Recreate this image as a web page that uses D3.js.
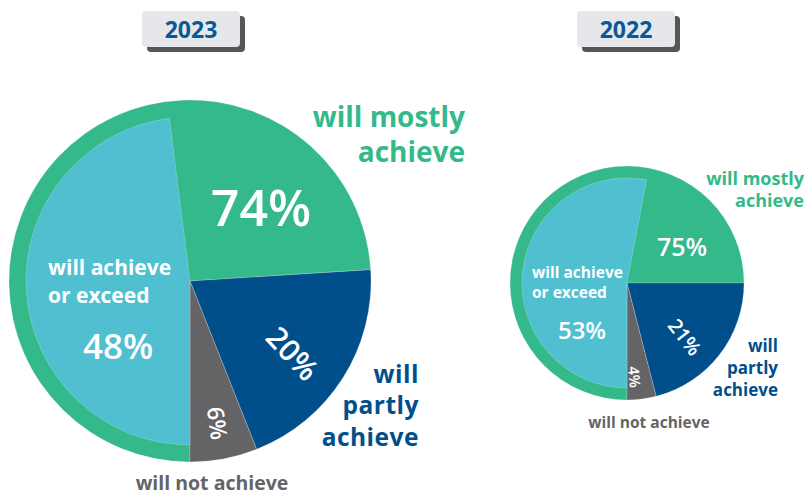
<!DOCTYPE html>
<html>
<head>
<meta charset="utf-8">
<script src="https://cdn.jsdelivr.net/npm/d3@7/dist/d3.min.js"></script>
<style>
  html, body { margin: 0; padding: 0; background: #fff; }
  svg { display: block; font-family: "Open Sans", "Noto Sans", sans-serif; }
</style>
</head>
<body>
<svg id="chart" width="808" height="496"></svg>
<script>
// Outlook by year: share of goals expected to be met (percent)
const years = ["2023", "2022"];
const achieveOrExceed = [48, 53];   // inner slice, part of "mostly achieve"
const mostlyAchieve   = [74, 75];   // includes achieve-or-exceed
const partlyAchieve   = [20, 21];
const notAchieve      = [6, 4];
const categoryLabels = {
  exceed: ["will achieve", "or exceed"],
  mostly: ["will mostly", "achieve"],
  partly: ["will", "partly", "achieve"],
  not: ["will not achieve"]
};

const colors = {
  mostly: "#33b98a",
  exceed: "#50c0d1",
  partly: "#004f8b",
  not: "#646466",
  title: "#0b5897"
};

// Placement of each pie and its labels (offsets relative to the pie centre)
const layouts = [
  { cx: 190, cy: 281, R: 181, rIn: 164, title: 23, badgeX: 191,
    mostlyPct: { dx: 71, dy: -55, size: 50 },
    exceedTxt: { dx: -142, dy: -6, size: 21, lh: 28 },
    exceedPct: { dx: -72, dy: 78, size: 35 },
    partlyPct: { dx: 103, dy: 72, size: 30, rot: 47 },
    notPct:    { dx: 28, dy: 142, size: 23, rot: 82 },
    mostlyTxt: { x: 465, y: 126.5, size: 28, lh: 35 },
    partlyTxt: { x: 419, y: 382.5, size: 24.5, lh: 31.5, ls: 0.5 },
    notTxt:    { x: 212, y: 490, size: 19.5 } },
  { cx: 627, cy: 283, R: 117, rIn: 105, title: 23, badgeX: 626,
    mostlyPct: { dx: 55, dy: -27, size: 25 },
    exceedTxt: { dx: -95, dy: -5.5, size: 15.5, lh: 20 },
    exceedPct: { dx: -45, dy: 55.5, size: 24 },
    partlyPct: { dx: 58, dy: 54, size: 20, rot: 52 },
    notPct:    { dx: 8, dy: 94, size: 15, rot: 85 },
    mostlyTxt: { x: 804, y: 185, size: 18, lh: 21.7 },
    partlyTxt: { x: 778, y: 351.5, size: 17, lh: 22 },
    notTxt:    { x: 649, y: 428, size: 15.5 } }
];

const svg = d3.select("#chart");

// Every pie is drawn clockwise from 6 o'clock around to 6 o'clock
const angle = d3.scaleLinear().domain([0, 100]).range([Math.PI, 3 * Math.PI]);
const pie = d3.pie().sort(null).value(d => d.value)
  .startAngle(Math.PI).endAngle(3 * Math.PI);

years.forEach((year, i) => {
  const L = layouts[i];
  const g = svg.append("g").attr("transform", `translate(${L.cx},${L.cy})`);

  const slices = pie([
    { key: "mostly", value: mostlyAchieve[i] },
    { key: "partly", value: partlyAchieve[i] },
    { key: "not", value: notAchieve[i] }
  ]);
  const outer = d3.arc().innerRadius(0).outerRadius(L.R);

  g.selectAll("path.slice").data(slices).join("path")
    .attr("class", "slice")
    .attr("d", outer)
    .attr("fill", d => colors[d.data.key])
    .attr("stroke", "rgba(255,255,255,0.35)")
    .attr("stroke-width", 0.6);

  // achieve-or-exceed sits inside the "mostly" slice, leaving a green rim
  const inner = d3.arc().innerRadius(0).outerRadius(L.rIn)
    .startAngle(angle(0)).endAngle(angle(achieveOrExceed[i]));
  g.append("path").attr("d", inner()).attr("fill", colors.exceed)
    .attr("stroke", "rgba(255,255,255,0.35)").attr("stroke-width", 0.6);

  // value labels inside the pie
  const pct = (cfg, txt) => {
    const t = g.append("text")
      .attr("text-anchor", "middle")
      .attr("fill", "#fff")
      .attr("font-weight", 600)
      .attr("font-size", cfg.size)
      .text(txt);
    if (cfg.rot !== undefined) {
      t.attr("dominant-baseline", "central")
       .attr("transform", `translate(${cfg.dx},${cfg.dy}) rotate(${cfg.rot})`);
    } else {
      t.attr("x", cfg.dx).attr("y", cfg.dy);
    }
  };
  pct(L.mostlyPct, mostlyAchieve[i] + "%");
  pct(L.exceedPct, achieveOrExceed[i] + "%");
  pct(L.partlyPct, partlyAchieve[i] + "%");
  pct(L.notPct, notAchieve[i] + "%");

  g.append("text")
    .attr("fill", "#fff").attr("font-weight", 700)
    .attr("font-size", L.exceedTxt.size)
    .selectAll("tspan").data(categoryLabels.exceed).join("tspan")
    .attr("x", L.exceedTxt.dx)
    .attr("y", (d, k) => L.exceedTxt.dy + k * L.exceedTxt.lh)
    .text(d => d);

  // category labels outside the pie
  const outside = (cfg, lines, color, anchor) => {
    svg.append("text")
      .attr("fill", color).attr("font-weight", 700)
      .attr("font-size", cfg.size)
      .attr("letter-spacing", cfg.ls || 0)
      .attr("text-anchor", anchor)
      .selectAll("tspan").data(lines).join("tspan")
      .attr("x", cfg.x)
      .attr("y", (d, k) => cfg.y + k * (cfg.lh || 0))
      .text(d => d);
  };
  outside(L.mostlyTxt, categoryLabels.mostly, colors.mostly, "end");
  outside(L.partlyTxt, categoryLabels.partly, colors.partly, "end");
  outside(L.notTxt, categoryLabels.not, colors.not, "middle");

  // year badge with drop shadow
  const bw = 98, bh = 36, bx = L.badgeX - bw / 2, by = 11;
  svg.append("rect").attr("x", bx + 5).attr("y", by + 5)
    .attr("width", bw).attr("height", bh).attr("rx", 4)
    .attr("fill", "#555658");
  svg.append("rect").attr("x", bx).attr("y", by)
    .attr("width", bw).attr("height", bh).attr("rx", 4)
    .attr("fill", "#e5e7eb");
  svg.append("text")
    .attr("x", bx + bw / 2).attr("y", by + 26.5)
    .attr("text-anchor", "middle")
    .attr("font-weight", 700).attr("font-size", L.title)
    .attr("fill", colors.title)
    .text(year);
});
</script>
</body>
</html>
